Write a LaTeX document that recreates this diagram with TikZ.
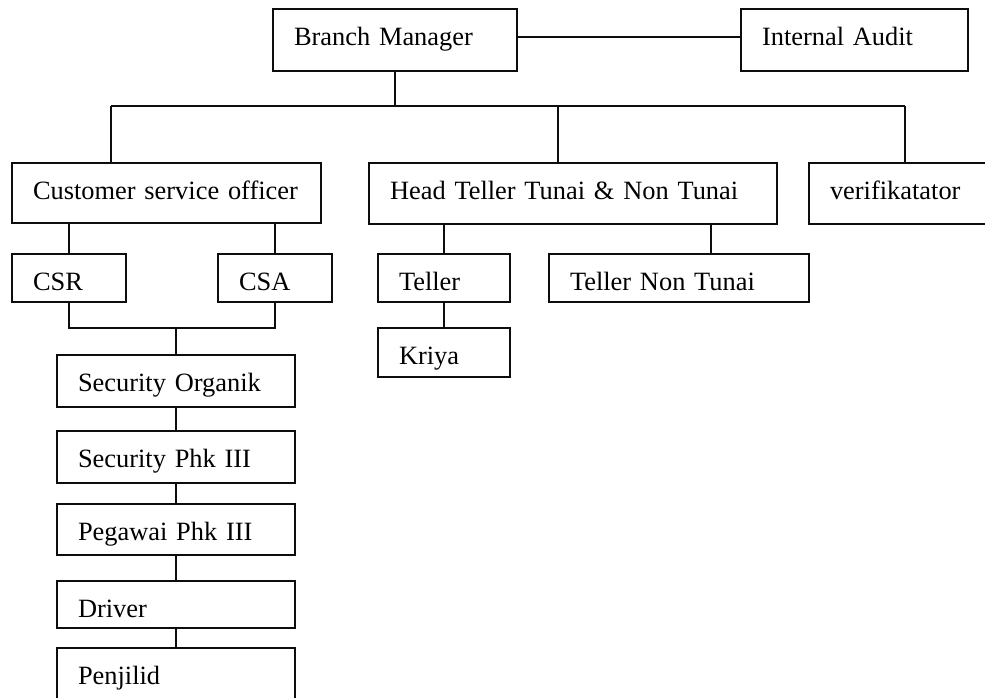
\documentclass[tikz,border=0pt]{standalone}
\usepackage{fontspec}
\setmainfont{Liberation Serif}
\definecolor{ink}{gray}{0.05}

\begin{document}
\begin{tikzpicture}[x=1pt, y=-1pt, line width=1.9pt,
   unit/.style={draw=ink, anchor=north west, inner xsep=21pt, inner ysep=0pt, outer sep=0pt,
     text height=36pt, align=left, font=\fontsize{26.4}{30}\selectfont},
   link/.style={draw=ink}]
  \clip (0,0) rectangle (985,697);
  % top row
  \node[unit, text width=202pt, text depth=26pt](bm) at (273,9){Branch Manager};
  \node[unit, text width=185pt, text depth=26pt](ia) at (741,9){Internal Audit};
  \draw[link] ([yshift=3pt]bm.east) -- ([yshift=3pt]ia.west);
  % second row
  \node[unit, text width=267pt, text depth=24pt](cso) at (12,163){Customer service officer};
  \node[unit, text width=366pt, text depth=25pt](ht) at (369,163){Head Teller Tunai \& Non Tunai};
  \node[unit, text width=160pt, text depth=25pt](ver) at (809,163){verifikatator};
  \coordinate (d1) at (111,106); \coordinate (d2) at (558,106); \coordinate (d3) at (905,106);
  \draw[link] (bm.south) -- (bm.south |- d1) (d1) -- (d3);
  \draw[link] (d1) -- (d1 |- cso.north) (d2) -- (d2 |- ht.north) (d3) -- (d3 |- ver.north);
  % customer service side
  \node[unit, text width=72pt, text depth=12pt](csr) at (12,254){CSR};
  \node[unit, text width=72pt, text depth=12pt](csa) at (218,254){CSA};
  \draw[link] (csr.north) -- (csr.north |- cso.south) (csa.north) -- (csa.north |- cso.south);
  \coordinate (j1) at (176,328);
  \draw[link] (csr.south) |- (j1) -| (csa.south);
  % teller side
  \node[unit, text width=90pt, text depth=12pt](tel) at (378,254){Teller};
  \node[unit, text width=218pt, text depth=12pt](tnt) at (549,254){Teller Non Tunai};
  \node[unit, text width=90pt, text depth=13pt](kri) at (378,328){Kriya};
  \coordinate (t2) at (711,254);
  \draw[link] (tel.north) -- (tel.north |- ht.south) (t2) -- (t2 |- ht.south) (tel) -- (kri);
  % support staff column
  \node[unit, text width=196pt, text depth=16pt](so) at (57,355){Security Organik};
  \node[unit, text width=196pt, text depth=16pt](sp) at (57,431){Security Phk III};
  \node[unit, text width=196pt, text depth=15pt](pp) at (57,504){Pegawai Phk III};
  \node[unit, text width=196pt, text depth=11pt](dr) at (57,581){Driver};
  \node[unit, text width=196pt, text depth=30pt](pj) at (57,648){Penjilid};
  \draw[link] (j1) -- (so.north) (so) -- (sp) (sp) -- (pp) (pp) -- (dr) (dr) -- (pj);
\end{tikzpicture}
\end{document}
